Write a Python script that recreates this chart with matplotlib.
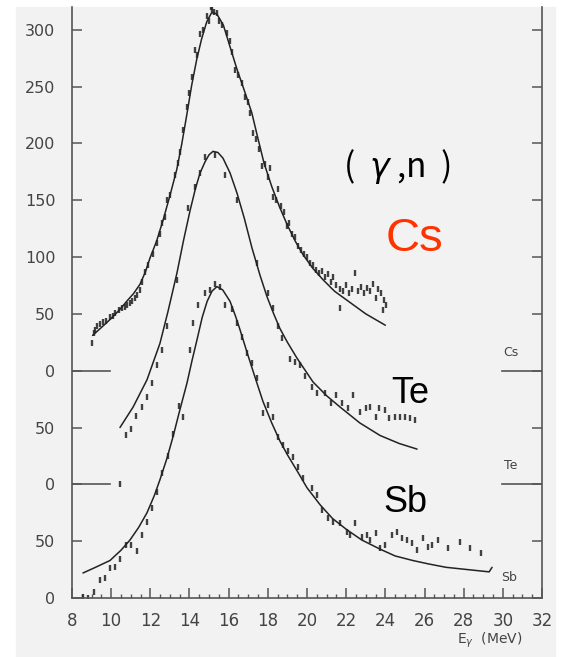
import matplotlib
matplotlib.use("Agg")
import matplotlib.pyplot as plt
from matplotlib.patches import Rectangle

# photon energy (MeV) / cross section (mb)
# Cs curve and points are shifted up by 200, Te by 100, Sb by 0
CS_OFFSET = 200
TE_OFFSET = 100
SB_OFFSET = 0

cs_fit_e = [9.05, 9.5, 9.94, 10.4, 10.79, 11.15, 11.47, 11.75, 11.98, 12.32, 12.66,
            13.0, 13.35, 13.6, 13.86, 14.11, 14.37, 14.62, 14.88, 15.13, 15.39, 15.73,
            16.07, 16.41, 16.75, 17.18, 17.5, 17.8, 18.2, 18.6, 19.0, 19.4, 19.8, 20.3,
            20.82, 21.4, 22.04, 23.0, 24.0]
cs_fit_y = [31, 38, 45, 53, 61, 68, 76, 87, 99, 114, 133, 154, 177, 199, 225, 251,
            274, 292, 307, 315, 314, 304, 285, 266, 249, 227, 204, 183, 162, 144, 128,
            114, 102, 90, 80, 70, 62, 50, 40]

cs_pts_e = [9.0, 9.1, 9.17, 9.3, 9.45, 9.58, 9.75, 9.94, 10.1, 10.2, 10.4, 10.55, 10.7,
            10.8, 10.95, 11.06, 11.2, 11.32, 11.45, 11.57, 11.73, 11.9, 12.14, 12.34,
            12.5, 12.6, 12.75, 12.85, 13.0, 13.26, 13.4, 13.52, 13.67, 13.87, 14.0,
            14.13, 14.28, 14.4, 14.54, 14.7, 14.9, 15.0, 15.1, 15.15, 15.25, 15.4, 15.5,
            15.66, 15.9, 16.05, 16.17, 16.33, 16.5, 16.68, 16.84, 17.0, 17.09, 17.24,
            17.4, 17.55, 17.7, 17.85, 18.0, 18.1, 18.27, 18.4, 18.5, 18.65, 18.8, 18.98,
            19.1, 19.25, 19.4, 19.54, 19.7, 19.85, 20.0, 20.15, 20.3, 20.45, 20.6, 20.75,
            20.9, 21.05, 21.2, 21.35, 21.5, 21.7, 21.7, 21.85, 22.0, 22.15, 22.3, 22.45,
            22.6, 22.75, 22.9, 23.05, 23.2, 23.35, 23.5, 23.65, 23.8, 23.9, 23.95, 24.05]
cs_pts_y = [24, 33, 36, 39, 41, 43, 44, 47, 48, 51, 53, 55, 56, 58, 60, 61, 64, 67, 71,
            78, 87, 93, 103, 112, 120, 130, 135, 150, 155, 172, 183, 192, 212, 232, 244,
            258, 282, 278, 296, 300, 312, 308, 320, 318, 316, 315, 308, 304, 297, 290,
            280, 265, 260, 253, 241, 236, 227, 209, 204, 195, 180, 182, 170, 178, 153,
            150, 160, 145, 140, 127, 130, 120, 118, 110, 106, 103, 100, 95, 93, 89, 86,
            88, 82, 85, 78, 82, 75, 55, 72, 70, 75, 68, 72, 86, 70, 74, 68, 73, 70, 76,
            64, 72, 68, 53, 62, 58]

te_fit_e = [10.45, 11.12, 11.83, 12.49, 12.9, 13.36, 13.7, 14.03, 14.3, 14.54, 14.8,
            15.0, 15.2, 15.45, 15.71, 16.07, 16.43, 16.8, 17.19, 17.6, 17.96, 18.3,
            18.62, 19.0, 19.49, 20.31, 21.0, 21.69, 22.7, 23.73, 24.7, 25.62]
te_fit_y = [50, 68, 92, 124, 152, 186, 215, 241, 260, 274, 284, 290, 293, 292, 287,
            274, 256, 234, 208, 184, 165, 150, 137, 125, 111, 90, 78, 68, 54, 43, 36, 31]

te_pts_e = [10.45, 10.76, 11.0, 11.27, 11.57, 11.83, 12.09, 12.34, 12.6, 12.85, 13.36,
            13.92, 14.28, 14.54, 14.8, 15.3, 15.8, 16.43, 17.45, 18.0, 18.27, 18.52,
            18.72, 19.13, 19.4, 19.64, 19.9, 20.26, 20.5, 20.9, 21.2, 21.5, 21.8, 22.1,
            22.35, 22.7, 23.0, 23.2, 23.5, 23.7, 24.0, 24.2, 24.5, 24.75, 25.0, 25.26,
            25.5]
te_pts_y = [0, 43, 49, 60, 68, 77, 89, 105, 118, 139, 180, 243, 262, 274, 288, 290,
            272, 250, 195, 168, 155, 139, 129, 110, 108, 105, 95, 86, 80, 80, 72, 79,
            72, 67, 79, 64, 67, 68, 59, 67, 65, 58, 59, 59, 59, 58, 57]

sb_fit_e = [8.56, 9.2, 9.94, 10.5, 10.96, 11.4, 11.83, 12.2, 12.49, 12.85, 13.16, 13.5,
            13.87, 14.13, 14.38, 14.65, 14.9, 15.15, 15.4, 15.7, 16.07, 16.35, 16.58,
            16.94, 17.35, 17.75, 18.2, 18.62, 19.0, 19.49, 20.0, 20.67, 21.3, 22.04,
            22.8, 23.73, 24.5, 25.4, 26.2, 27.1, 28.2, 29.3, 29.45]
sb_fit_y = [22, 27, 33, 42, 51, 62, 75, 90, 104, 123, 142, 165, 189, 209, 227, 247,
            261, 270, 274, 271, 261, 248, 236, 216, 194, 173, 154, 138, 126, 112, 97,
            82, 70, 60, 51, 43, 37, 33, 30, 27, 25, 23, 27]

sb_pts_e = [8.56, 8.8, 9.1, 9.43, 9.7, 9.94, 10.2, 10.45, 10.76, 11.0, 11.3, 11.57,
            11.83, 12.09, 12.34, 12.6, 12.9, 13.16, 13.46, 13.67, 14.03, 14.18, 14.44,
            14.8, 15.05, 15.3, 15.56, 15.8, 16.17, 16.43, 16.68, 16.94, 17.19, 17.45,
            17.75, 18.0, 18.27, 18.52, 18.77, 19.03, 19.29, 19.54, 19.8, 20.26, 20.5,
            20.77, 21.07, 21.33, 21.7, 22.04, 22.2, 22.45, 22.8, 23.07, 23.2, 23.5,
            23.73, 24.0, 24.35, 24.6, 24.85, 25.1, 25.36, 25.6, 25.9, 26.2, 26.4, 26.7,
            27.2, 27.8, 28.3, 28.9]
sb_pts_y = [1, 0, 5, 16, 18, 26, 27, 34, 47, 47, 41, 55, 67, 79, 93, 110, 125, 144,
            169, 159, 218, 242, 258, 268, 271, 276, 274, 258, 254, 242, 230, 216, 207,
            194, 163, 170, 159, 142, 135, 129, 124, 115, 106, 97, 91, 77, 70, 67, 66,
            58, 55, 66, 54, 55, 51, 57, 44, 47, 55, 58, 53, 51, 48, 42, 53, 45, 47, 51,
            44, 49, 44, 40]

y_ticks = [0, 50, 100, 150, 200, 250, 300, 350, 400, 450, 500]
y_tick_labels = ["0", "50", "0", "50", "0", "50", "100", "150", "200", "250", "300"]
x_ticks = [8, 10, 12, 14, 16, 18, 20, 22, 24, 26, 28, 30, 32]

INK = "#222222"
AXIS = "#555555"

fig = plt.figure(figsize=(5.67, 6.57), dpi=100)
fig.patch.set_facecolor("white")
# grey paper of the scanned page
fig.patches.append(Rectangle((16 / 567, 0), 539 / 567, 650 / 657,
                             transform=fig.transFigure, color="#f2f2f2", zorder=-5))

ax = fig.add_axes([72 / 567, 59 / 657, 470 / 567, 591 / 657])
ax.set_facecolor("none")

for fe, fy, pe, py, off in [
    (cs_fit_e, cs_fit_y, cs_pts_e, cs_pts_y, CS_OFFSET),
    (te_fit_e, te_fit_y, te_pts_e, te_pts_y, TE_OFFSET),
    (sb_fit_e, sb_fit_y, sb_pts_e, sb_pts_y, SB_OFFSET),
]:
    ax.plot(fe, [v + off for v in fy], color=INK, lw=1.1, solid_capstyle="round",
            solid_joinstyle="round")
    ax.plot(pe, [v + off for v in py], ls="none", marker="|", ms=5, mew=1.7,
            color=INK, alpha=0.85)

ax.set_xlim(8, 32)
ax.set_ylim(0, 520)

ax.set_yticks(y_ticks)
ax.set_yticklabels(y_tick_labels)
ax.set_xticks(x_ticks)
ax.set_xticks([8 + 0.5 * i for i in range(49)], minor=True)

ax.spines["top"].set_visible(False)
for side in ("left", "right", "bottom"):
    ax.spines[side].set_color(AXIS)
    ax.spines[side].set_linewidth(1.2)

ax.tick_params(axis="y", which="major", direction="in", length=7, width=1.1,
               color=AXIS, labelcolor="#444444", labelsize=11.5, pad=12,
               left=True, right=True)
ax.tick_params(axis="x", which="major", direction="in", length=7, width=1.1,
               color=AXIS, labelcolor="#444444", labelsize=12, pad=10)
ax.tick_params(axis="x", which="minor", direction="in", length=3, width=1.0,
               color=AXIS)

# long zero markers for the shifted Cs and Te curves
for level in (CS_OFFSET, TE_OFFSET):
    ax.axhline(level, xmin=0, xmax=0.081, color=AXIS, lw=1.2)
    ax.axhline(level, xmin=0.915, xmax=1, color=AXIS, lw=1.2)

ax.text(30.4, 216, "Cs", fontsize=9, color="#444444", ha="center", va="center")
ax.text(30.4, 117, "Te", fontsize=9, color="#444444", ha="center", va="center")
ax.text(30.3, 18, "Sb", fontsize=9, color="#444444", ha="center", va="center")

ax.text(24.6, 370, "(  $\\gamma$ ,n  )", fontsize=24, color="black", ha="center",
        va="baseline", family=["Noto Sans CJK JP", "DejaVu Sans"])
ax.text(25.5, 305, "Cs", fontsize=34, color="#ff3300", ha="center", va="baseline",
        family="Liberation Sans")
ax.text(25.25, 172, "Te", fontsize=26, color="black", ha="center", va="baseline",
        family="Liberation Sans")
ax.text(25.0, 76, "Sb", fontsize=26, color="black", ha="center", va="baseline",
        family="Liberation Sans")

fig.text(0.864, 0.025, "E$_\\gamma$  (MeV)", fontsize=10, color="#444444",
         ha="center", va="center")

fig.savefig("out.png", dpi=100)
